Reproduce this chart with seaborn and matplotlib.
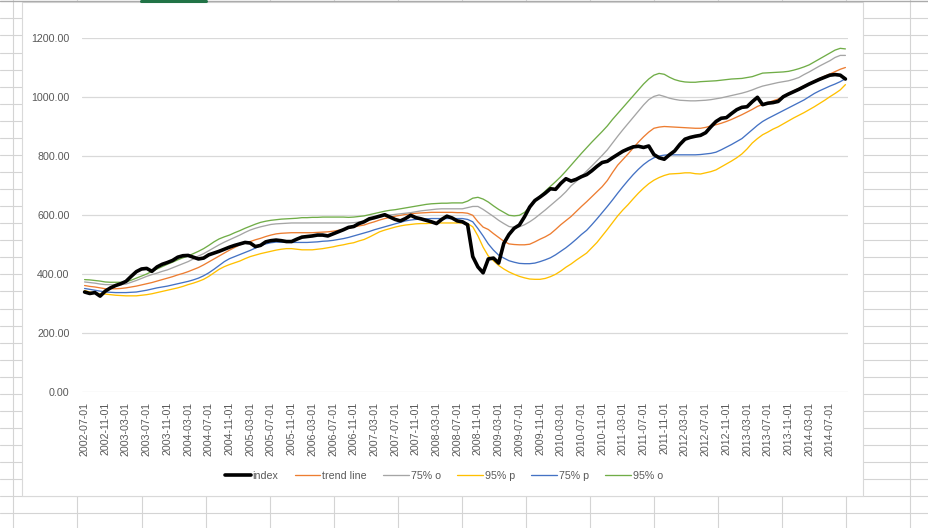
import numpy as np
import pandas as pd
import matplotlib
matplotlib.use("Agg")
import matplotlib.pyplot as plt
import seaborn as sns
from matplotlib.lines import Line2D
from matplotlib.patches import Rectangle

# ---------------- data ----------------
dates = pd.date_range("2002-07-01", periods=148, freq="MS").strftime("%Y-%m-%d").tolist()

index_vals = [
    340, 335, 338, 326, 343, 354, 362, 368, 376, 393, 409, 418,
    420, 410, 425, 434, 440, 447, 458, 463, 464, 458, 452, 455,
    466, 472, 478, 485, 492, 498, 503, 508, 506, 494, 498, 510,
    514, 516, 514, 511, 511, 519, 526, 528, 530, 533, 533, 530,
    537, 544, 551, 559, 562, 572, 578, 588, 592, 597, 602, 594,
    586, 581, 589, 600, 592, 588, 583, 578, 572, 586, 597, 591,
    581, 578, 568, 460, 425, 405, 452, 455, 438, 505, 535, 556,
    567, 595, 628, 650, 662, 675, 690, 688, 708, 724, 716, 722,
    731, 738, 751, 766, 779, 783, 795, 806, 817, 825, 832, 834,
    830, 835, 806, 795, 790, 805, 818, 840, 858, 864, 868, 871,
    880, 900, 918, 929, 931, 945, 958, 966, 968, 985, 1000, 975,
    980, 982, 986, 1002, 1011, 1019, 1027, 1036, 1045, 1053, 1061, 1068,
    1075, 1077, 1075, 1062,
]

trend_vals = [
    362, 359, 357, 354, 351, 351, 351, 352, 354, 357, 360, 364,
    368, 372, 377, 382, 387, 392, 398, 403, 409, 416, 423, 432,
    442, 452, 462, 472, 482, 491, 500, 506, 511, 517, 522, 528,
    533, 537, 539, 540, 541, 541, 541, 541, 541, 542, 543, 544,
    546, 549, 552, 556, 560, 564, 567, 573, 578, 584, 589, 593,
    597, 600, 603, 605, 607, 608, 609, 610, 610, 610, 610, 610,
    609, 609, 607, 600, 578, 560, 552, 538, 525, 512, 503, 501,
    500, 500, 502, 510, 519, 527, 537, 552, 568, 582, 596, 613,
    630, 646, 663, 680, 697, 718, 745, 770, 789, 808, 828, 848,
    866, 882, 895, 899, 901, 900, 899, 898, 897, 896, 895, 895,
    898, 903, 907, 912, 918, 925, 933, 941, 950, 959, 969, 976,
    982, 988, 994, 1003, 1012, 1022, 1030, 1039, 1047, 1056, 1064, 1072,
    1079, 1087, 1095, 1101,
]

o75_vals = [
    374, 372, 370, 367, 365, 365, 365, 365, 367, 373, 379, 386,
    393, 399, 404, 410, 415, 422, 429, 436, 443, 452, 462, 470,
    480, 490, 500, 509, 517, 525, 533, 542, 550, 556, 561, 565,
    569, 571, 572, 573, 574, 574, 574, 574, 574, 574, 574, 574,
    574, 574, 574, 574, 575, 577, 578, 583, 589, 594, 598, 601,
    603, 605, 607, 609, 612, 615, 617, 619, 621, 622, 622, 622,
    622, 622, 626, 630, 630, 620, 608, 596, 583, 572, 562, 559,
    561, 568, 578, 590, 604, 618, 633, 648, 663, 680, 700, 715,
    732, 750, 767, 785, 803, 822, 845, 868, 890, 911, 932, 953,
    974, 992, 1003, 1008, 1003, 997, 993, 990, 989, 988, 988, 989,
    990, 992, 995, 998, 1002, 1006, 1010, 1014, 1019, 1025, 1032, 1038,
    1042, 1046, 1050, 1053, 1056, 1061, 1067, 1077, 1086, 1096, 1106, 1115,
    1124, 1135, 1142, 1142,
]

p95_vals = [
    345, 340, 336, 334, 333, 331, 329, 328, 327, 327, 327, 329,
    331, 334, 338, 342, 346, 350, 354, 359, 365, 370, 376, 383,
    393, 405, 417, 426, 433, 439, 445, 453, 460, 465, 470, 474,
    478, 482, 485, 487, 487, 485, 483, 483, 483, 485, 487, 490,
    493, 497, 500, 504, 507, 513, 518, 526, 535, 544, 550, 555,
    560, 564, 567, 569, 571, 572, 572, 573, 574, 574, 574, 574,
    574, 574, 572, 561, 530, 492, 462, 446, 430, 418, 408, 400,
    393, 388, 384, 383, 383, 386, 392, 400, 411, 424, 435, 448,
    460, 472, 490, 508, 530, 552, 575, 598, 618, 636, 656, 675,
    692, 707, 719, 728, 735, 740, 741, 742, 744, 744, 741, 740,
    744, 748, 754, 764, 774, 784, 795, 808, 825, 845, 860, 873,
    882, 892, 900, 910, 920, 930, 939, 948, 958, 968, 979, 990,
    1002, 1013, 1025, 1043,
]

p75_vals = [
    352, 349, 346, 343, 340, 339, 338, 338, 338, 339, 340, 343,
    346, 350, 354, 357, 360, 364, 368, 372, 376, 381, 387, 395,
    405, 417, 430, 443, 453, 460, 467, 474, 481, 489, 497, 503,
    507, 509, 509, 509, 508, 508, 508, 508, 509, 510, 512, 513,
    515, 518, 521, 525, 530, 535, 540, 545, 551, 556, 561, 566,
    571, 576, 581, 584, 586, 587, 588, 589, 589, 589, 589, 589,
    589, 589, 586, 578, 555, 530, 503, 482, 465, 455, 446, 441,
    437, 436, 436, 438, 443, 449, 456, 466, 478, 490, 504, 519,
    535, 549, 568, 588, 609, 630, 652, 675, 697, 718, 738, 756,
    772, 785, 795, 801, 804, 805, 805, 805, 805, 805, 805, 806,
    808, 810, 814, 822, 831, 840, 850, 860, 875, 890, 905, 918,
    928, 937, 946, 955, 964, 973, 982, 991, 1002, 1013, 1022, 1030,
    1038, 1045, 1053, 1063,
]

o95_vals = [
    382, 381, 379, 377, 374, 373, 373, 373, 374, 380, 387, 394,
    401, 410, 418, 426, 434, 441, 449, 456, 462, 470, 478, 487,
    498, 510, 520, 527, 533, 541, 548, 556, 563, 570, 576, 580,
    583, 585, 587, 588, 589, 590, 592, 592, 593, 593, 594, 594,
    594, 594, 594, 593, 594, 596, 598, 602, 606, 610, 614, 617,
    619, 622, 625, 628, 631, 634, 637, 639, 640, 641, 641, 642,
    642, 642, 648, 658, 661, 655, 645, 632, 620, 610, 600, 598,
    600, 610, 628, 646, 665, 682, 698, 714, 731, 750, 770, 790,
    810, 829, 848, 866, 884, 903, 925, 945, 965, 985, 1005, 1025,
    1045, 1062, 1075, 1081, 1078, 1068, 1060, 1055, 1052, 1051, 1051, 1053,
    1054, 1055, 1056, 1058, 1060, 1062, 1063, 1064, 1067, 1070, 1076, 1082,
    1083, 1084, 1085, 1086, 1088, 1092, 1097, 1103, 1110, 1120, 1130, 1140,
    1150, 1160, 1166, 1164,
]

series_names = ["index", "trend line", "75% o", "95% p", "75% p", "95% o"]
series_vals = [index_vals, trend_vals, o75_vals, p95_vals, p75_vals, o95_vals]
series_colors = ["#000000", "#ED7D31", "#A5A5A5", "#FFC000", "#4472C4", "#70AD47"]
y_ticks = [0, 200, 400, 600, 800, 1000, 1200]

# ---------------- style ----------------
sns.set_theme(style="white")
plt.rcParams["font.family"] = ["Liberation Sans", "DejaVu Sans"]

W, H = 929, 528
fig = plt.figure(figsize=(W / 100, H / 100), dpi=100)
fig.patch.set_facecolor("white")


def fx(px):
    return px / W


def fy(py):
    return 1 - py / H


# spreadsheet background grid
sheet_c = "#D4D4D4"
row_lines = [1.3 + 17.07 * k for k in range(1, 31)]
col_lines = [13, 77, 142, 206, 270, 334, 398, 462, 526, 590, 654, 718, 782, 846, 910]
for y in row_lines:
    fig.add_artist(Line2D([0, 1], [fy(y), fy(y)], color=sheet_c, lw=0.8,
                          transform=fig.transFigure, zorder=-10))
for x in col_lines:
    fig.add_artist(Line2D([fx(x), fx(x)], [0, 1], color=sheet_c, lw=0.8,
                          transform=fig.transFigure, zorder=-10))

# chart area
fig.add_artist(Rectangle((fx(22), fy(496)), fx(863) - fx(22), fy(2) - fy(496),
                         facecolor="white", edgecolor="#D9D9D9", lw=0.8,
                         transform=fig.transFigure, zorder=-5))
# column header border + selected column marker
fig.add_artist(Line2D([0, 1], [fy(1), fy(1)], color="#ABABAB", lw=1.0,
                      transform=fig.transFigure, zorder=5))
fig.add_artist(Line2D([fx(141), fx(206)], [fy(1), fy(1)], color="#217346", lw=2.2,
                      transform=fig.transFigure, zorder=6))

# plot area
ax = fig.add_axes([fx(82), fy(392.3), fx(848) - fx(82), (392.3 - 38.3) / H])
ax.set_facecolor("none")
x = np.arange(len(dates))
for name, vals, col in zip(series_names, series_vals, series_colors):
    is_idx = name == "index"
    sns.lineplot(x=x, y=vals, ax=ax, color=col, lw=2.6 if is_idx else 0.95,
                 label=name, zorder=4 if is_idx else 3)

ax.set_xlim(-0.5, len(dates) - 0.5)
ax.set_ylim(0, 1200)
tick_pos = list(range(0, len(dates), 4))
ax.set_xticks(tick_pos)
ax.set_xticklabels([dates[i] for i in tick_pos], rotation=90)
ax.set_yticks(y_ticks)
ax.set_yticklabels([f"{v:.2f}" for v in y_ticks])
ax.grid(axis="y", color="#D9D9D9", lw=0.9)
ax.grid(axis="x", visible=False)
ax.set_axisbelow(True)
for s in ax.spines.values():
    s.set_visible(False)
ax.tick_params(axis="both", length=0, colors="#595959", labelsize=7.7)
ax.tick_params(axis="x", pad=6.8)
ax.tick_params(axis="y", pad=9.0)
ax.set_xlabel("")
ax.set_ylabel("")

handles, labels = ax.get_legend_handles_labels()
if ax.get_legend() is not None:
    ax.get_legend().remove()
fig.legend(handles, labels, loc="center", bbox_to_anchor=(fx(444), fy(476)),
           ncol=6, frameon=False, fontsize=7.7, handlelength=2.4,
           handletextpad=0.2, columnspacing=1.5, labelcolor="#595959")

fig.savefig("out.png", dpi=100, facecolor="white")
